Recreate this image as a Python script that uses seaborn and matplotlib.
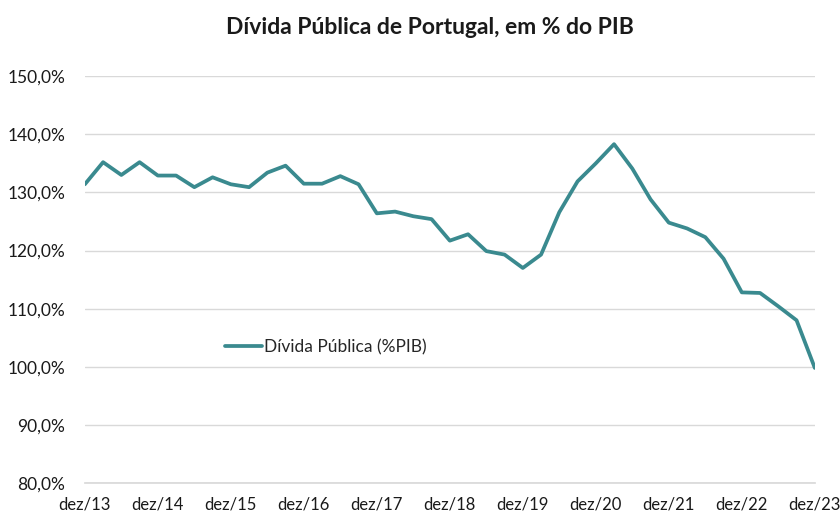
import matplotlib
matplotlib.use("Agg")
import matplotlib.pyplot as plt
import numpy as np
import pandas as pd
import seaborn as sns

# Quarterly public debt, % of GDP (dez/13 .. dez/23)
divida = [131.4, 135.2, 133.0, 135.2, 132.9, 132.9, 130.9, 132.6,
          131.4, 130.9, 133.4, 134.6, 131.5, 131.5, 132.8, 131.4,
          126.4, 126.7, 125.9, 125.4, 121.7, 122.8, 119.9, 119.3,
          117.0, 119.3, 126.6, 131.9, 135.0, 138.3, 134.1, 128.8,
          124.8, 123.8, 122.3, 118.6, 112.8, 112.7, 110.4, 108.0, 99.8]
tick_labels = ["dez/13", "dez/14", "dez/15", "dez/16", "dez/17", "dez/18",
               "dez/19", "dez/20", "dez/21", "dez/22", "dez/23"]
y_ticks = [80, 90, 100, 110, 120, 130, 140, 150]

sns.set_theme(style="white")
plt.rcParams['font.family'] = ['Lato', 'DejaVu Sans']

df = pd.DataFrame({'trimestre': np.arange(len(divida)), 'divida': divida})

fig = plt.figure(figsize=(8.4, 5.15), dpi=100)
ax = fig.add_axes([0.101, 0.0621, 0.869, 0.790])

# Gridlines
for _y in y_ticks:
    ax.axhline(_y, color='#d9d9d9', lw=1.0, zorder=0)

sns.lineplot(data=df, x='trimestre', y='divida', ax=ax, color='#3a8a8f',
             lw=2.7, label='Dívida Pública (%PIB)', zorder=3)

ax.set_xlim(0, len(divida) - 1)
ax.set_ylim(80, 150)
ax.set_xticks(np.arange(0, len(divida), 4))
ax.set_xticklabels(tick_labels)
ax.set_yticks(y_ticks)
ax.set_yticklabels([f"{v:.1f}%".replace('.', ',') for v in y_ticks])
ax.tick_params(axis='x', labelsize=12, colors='#1a1a1a', length=4, color='#d9d9d9', pad=6)
ax.tick_params(axis='y', labelsize=12.5, colors='#1a1a1a', length=0, pad=14)
ax.set_xlabel('')
ax.set_ylabel('')
for _s in ['top', 'right', 'left']:
    ax.spines[_s].set_visible(False)
ax.spines['bottom'].set_color('#d9d9d9')

ax.legend(loc='center left', bbox_to_anchor=(0.258, 0.326), bbox_transform=fig.transFigure,
          frameon=False, fontsize=12.5, handlelength=2.1, handletextpad=0.1, borderpad=0)

fig.text(0.512, 0.947, 'Dívida Pública de Portugal, em % do PIB', ha='center', va='center',
         fontsize=16.5, fontweight='bold', color='#1a1a1a')

plt.savefig('out.png', dpi=100)
